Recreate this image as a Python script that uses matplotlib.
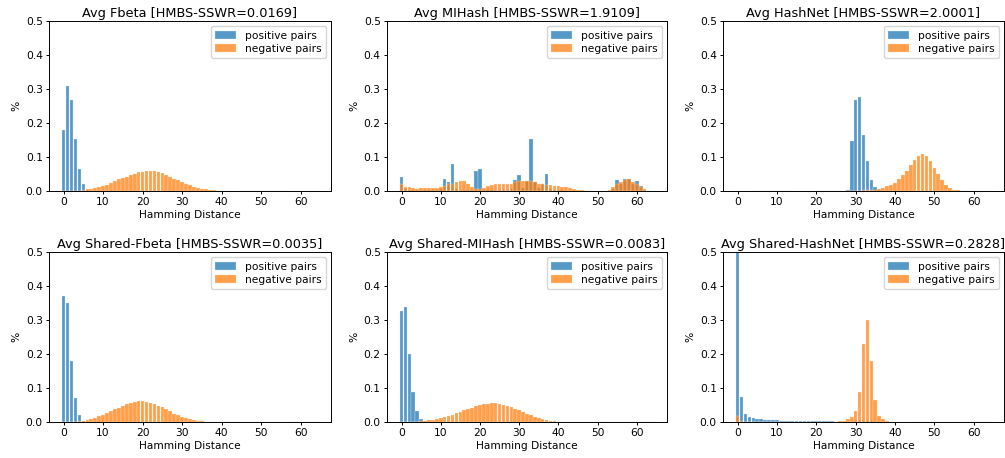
import matplotlib
matplotlib.use("Agg")
import matplotlib.pyplot as plt
import numpy as np

N_BITS = 65
distances = list(range(N_BITS))

def pad(vals):
    return list(vals) + [0.0] * (N_BITS - len(vals))

titles = [
    "Avg Fbeta [HMBS-SSWR=0.0169]",
    "Avg MIHash [HMBS-SSWR=1.9109]",
    "Avg HashNet [HMBS-SSWR=2.0001]",
    "Avg Shared-Fbeta [HMBS-SSWR=0.0035]",
    "Avg Shared-MIHash [HMBS-SSWR=0.0083]",
    "Avg Shared-HashNet [HMBS-SSWR=0.2828]",
]

fbeta_pos = pad([0.178, 0.309, 0.267, 0.153, 0.064, 0.020, 0.003])
fbeta_neg = pad([0, 0, 0, 0, 0,
                 0.002, 0.005, 0.006, 0.008, 0.011,
                 0.015, 0.019, 0.023, 0.028, 0.034,
                 0.038, 0.042, 0.046, 0.051, 0.055,
                 0.057, 0.059, 0.059, 0.058, 0.056,
                 0.052, 0.047, 0.042, 0.036, 0.031,
                 0.026, 0.021, 0.017, 0.013, 0.010,
                 0.007, 0.005, 0.003, 0.002, 0.001, 0.0005])

mihash_pos = pad([0.042, 0.005, 0.003, 0.002, 0.002, 0.003, 0.003, 0.004, 0.004, 0.004,
                  0.005, 0.034, 0.025, 0.078, 0.005, 0.004, 0.003, 0.003, 0.003, 0.058,
                  0.064, 0.004, 0.003, 0.003, 0.003, 0.003, 0.003, 0.004, 0.005, 0.032,
                  0.047, 0.010, 0.030, 0.152, 0.025, 0.010, 0.022, 0.050, 0.005, 0.003,
                  0.002, 0.002, 0, 0, 0, 0, 0, 0, 0, 0,
                  0, 0, 0, 0.001, 0.005, 0.033, 0.020, 0.034, 0.036, 0.020,
                  0.030, 0.014, 0.003])
mihash_neg = pad([0.020, 0.012, 0.013, 0.009, 0.006, 0.009, 0.010, 0.010, 0.010, 0.010,
                  0.011, 0.015, 0.020, 0.022, 0.027, 0.030, 0.029, 0.020, 0.011, 0.007,
                  0.007, 0.009, 0.015, 0.018, 0.020, 0.021, 0.021, 0.021, 0.021, 0.025,
                  0.028, 0.029, 0.029, 0.028, 0.027, 0.020, 0.020, 0.018, 0.017, 0.016,
                  0.015, 0.013, 0.011, 0.008, 0.005, 0.003, 0.002, 0.001, 0, 0,
                  0, 0, 0.001, 0.003, 0.011, 0.020, 0.026, 0.032, 0.035, 0.027,
                  0.022, 0.011, 0.007])

hashnet_pos = pad([0] * 28 + [0.004, 0.147, 0.267, 0.276, 0.166, 0.088, 0.032, 0.013, 0.003])
hashnet_neg = pad([0] * 31 + [0.001, 0.002, 0.002, 0.003, 0.004, 0.006, 0.010, 0.015, 0.019,
                              0.024, 0.034, 0.047, 0.060, 0.075, 0.092, 0.104, 0.108, 0.102,
                              0.088, 0.069, 0.050, 0.032, 0.018, 0.008, 0.004, 0.002])

sfbeta_pos = pad([0.370, 0.350, 0.180, 0.071, 0.022, 0.004])
sfbeta_neg = pad([0, 0, 0, 0,
                  0.002, 0.004, 0.005, 0.008, 0.012, 0.017,
                  0.022, 0.027, 0.032, 0.037, 0.042,
                  0.047, 0.052, 0.056, 0.059, 0.061,
                  0.061, 0.060, 0.057, 0.053, 0.048,
                  0.043, 0.037, 0.031, 0.025, 0.020,
                  0.015, 0.011, 0.008, 0.005, 0.003,
                  0.002, 0.001])

smihash_pos = pad([0.327, 0.338, 0.199, 0.088, 0.032, 0.010, 0.003])
smihash_neg = pad([0, 0, 0, 0, 0,
                   0.002, 0.003, 0.005, 0.007, 0.009,
                   0.012, 0.015, 0.018, 0.022, 0.026,
                   0.030, 0.034, 0.038, 0.042, 0.046,
                   0.049, 0.052, 0.054, 0.055, 0.055,
                   0.054, 0.051, 0.048, 0.044, 0.039,
                   0.034, 0.029, 0.024, 0.020, 0.016,
                   0.012, 0.009, 0.006, 0.004, 0.002, 0.001])

shashnet_pos = pad([0.560, 0.074, 0.023, 0.014, 0.011, 0.009, 0.008, 0.007, 0.006, 0.005,
                    0.005, 0.004, 0.004, 0.004, 0.003, 0.003, 0.003, 0.003, 0.002, 0.002,
                    0.002, 0.002, 0.002, 0.002, 0.002, 0.001, 0.001, 0.001, 0.001, 0.001,
                    0.002, 0.002, 0.003, 0.003, 0.002, 0.001])
shashnet_neg = pad([0.018, 0.004, 0.001, 0.001, 0.001, 0.001, 0.001, 0.001, 0.001, 0.001,
                    0.001, 0.001, 0.001, 0.001, 0.001, 0.001, 0.001, 0.001, 0.001, 0.001,
                    0.001, 0.001, 0.001, 0.001, 0.001, 0.001, 0.002, 0.004, 0.008, 0.014,
                    0.032, 0.088, 0.229, 0.299, 0.179, 0.066, 0.019, 0.008, 0.003, 0.001])

positives = [fbeta_pos, mihash_pos, hashnet_pos, sfbeta_pos, smihash_pos, shashnet_pos]
negatives = [fbeta_neg, mihash_neg, hashnet_neg, sfbeta_neg, smihash_neg, shashnet_neg]

W, H = 1005, 458
fig = plt.figure(figsize=(W / 100, H / 100), dpi=100)

col_left = [49, 387, 723]
col_w = [282, 280, 281]
row_top = [21, 252]
ax_h = 170

FS = 7.7
for i in range(6):
    r, c = divmod(i, 3)
    left = col_left[c] / W
    bottom = 1 - (row_top[r] + ax_h) / H
    ax = fig.add_axes([left, bottom, col_w[c] / W, ax_h / H])
    ax.bar(distances, positives[i], width=0.92, color="C0", alpha=0.75,
           edgecolor="#dde9f3", linewidth=0.3, label="positive pairs")
    ax.bar(distances, negatives[i], width=0.92, color="C1", alpha=0.75,
           edgecolor="#ffe3c8", linewidth=0.3, label="negative pairs")
    ax.set_ylim(0, 0.5)
    ax.set_xticks([0, 10, 20, 30, 40, 50, 60])
    ax.set_yticks([0.0, 0.1, 0.2, 0.3, 0.4, 0.5])
    ax.tick_params(labelsize=FS, length=2.5, width=0.7, pad=2)
    ax.set_title(titles[i], fontsize=FS * 1.2, pad=3)
    ax.set_xlabel("Hamming Distance", fontsize=FS, labelpad=2)
    ax.set_ylabel("%", fontsize=FS, labelpad=3)
    ax.legend(loc="upper right", fontsize=FS, handlelength=2.0,
              borderpad=0.4, labelspacing=0.3, framealpha=0.8)
    for s in ax.spines.values():
        s.set_linewidth(0.7)

fig.savefig("out.png", dpi=100)
